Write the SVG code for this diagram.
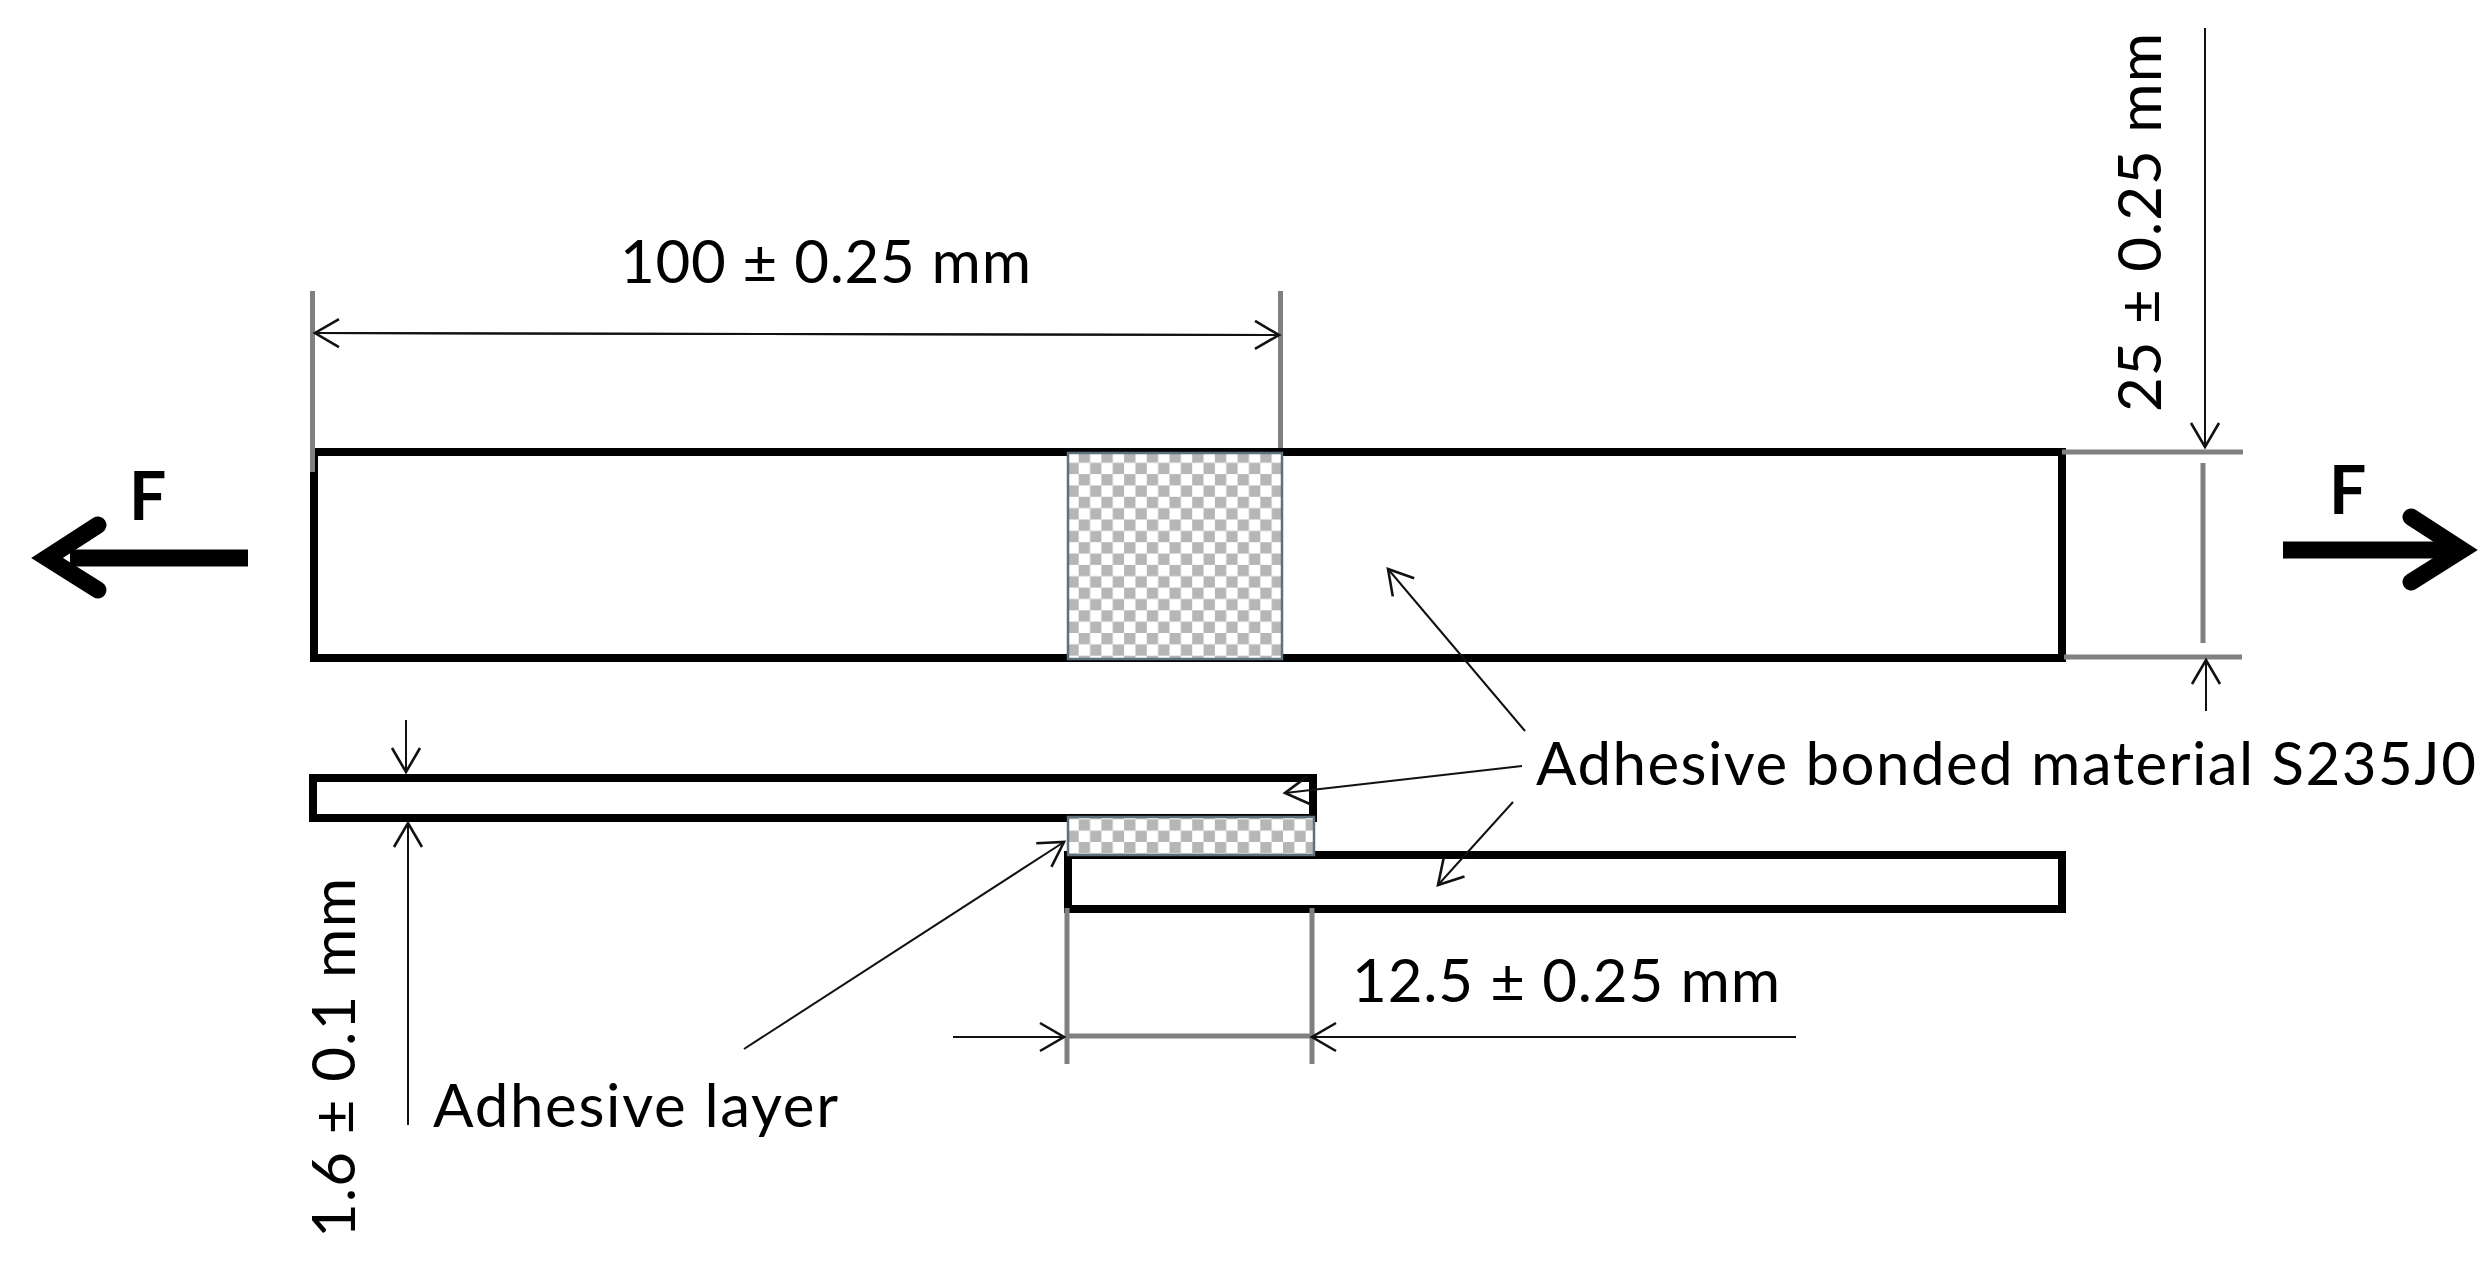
<svg xmlns="http://www.w3.org/2000/svg" width="2492" height="1262" viewBox="0 0 2492 1262">
<style>
.plate{fill:#fff;stroke:#000;stroke-width:8}
.bond{stroke:#5f717c;stroke-width:2.5}
.ext{fill:none;stroke:#808080;stroke-width:5}
.lead{fill:none;stroke:#111;stroke-width:2;marker-end:url(#open)}
.lbl{font-family:"Lato","Open Sans",sans-serif;font-size:60px;fill:#000}
.force{font-family:"Lato","Open Sans",sans-serif;font-size:66px;font-weight:700;fill:#000}
.shaft{fill:none;stroke:#000;stroke-width:17}
.barb{fill:none;stroke:#000;stroke-width:17;stroke-linecap:round;stroke-linejoin:miter;stroke-miterlimit:10}
</style>
<defs>
<marker id="open" markerUnits="userSpaceOnUse" markerWidth="40" markerHeight="40" refX="30" refY="20" orient="auto" overflow="visible">
<path d="M6,6 L30,20 L6,34" fill="none" stroke="#111" stroke-width="2.6"/>
</marker>
<pattern id="chk1" patternUnits="userSpaceOnUse" x="1078.7" y="451.4" width="22.7" height="22.7">
<rect width="22.7" height="22.7" fill="#fff"/><rect width="11.35" height="11.35" fill="#b6b6b6"/><rect x="11.35" y="11.35" width="11.35" height="11.35" fill="#b6b6b6"/>
</pattern>
<pattern id="chk2" patternUnits="userSpaceOnUse" x="1078.7" y="819.3" width="22.7" height="22.7">
<rect width="22.7" height="22.7" fill="#fff"/><rect width="11.35" height="11.35" fill="#b6b6b6"/><rect x="11.35" y="11.35" width="11.35" height="11.35" fill="#b6b6b6"/>
</pattern>
</defs>
<rect width="2492" height="1262" fill="#fff"/>

<g id="plate-top-view"><rect class="plate" x="314" y="452" width="1748" height="206"/></g>
<g id="bond-top-view"><rect class="bond" x="1068" y="453" width="214" height="206" fill="url(#chk1)"/></g>
<g id="strip-upper"><rect class="plate" x="313" y="778" width="1000" height="40"/></g>
<g id="strip-lower"><rect class="plate" x="1068" y="855" width="994" height="54"/></g>
<g id="bond-side-view"><rect class="bond" x="1068" y="817" width="246" height="38" fill="url(#chk2)"/></g>

<g id="connectors">
<path class="ext" d="M312.500,291V472"/>
<path class="ext" d="M1280.500,291V448"/>
<path class="ext" d="M2062,452H2243"/>
<path class="ext" d="M2064,657H2242"/>
<path class="ext" d="M2203,463V643"/>
<path class="ext" d="M1067,908V1064"/>
<path class="ext" d="M1312,908V1064"/>
<path class="ext" d="M1067,1036H1312" stroke="#999"/>
<path class="lead" d="M315,333L1279,335"/>
<path class="lead" d="M1279,335L315,333"/>
<path class="lead" d="M2205,28V447"/>
<path class="lead" d="M2206,711V660"/>
<path class="lead" d="M406,720V772"/>
<path class="lead" d="M408,1125V823"/>
<path class="lead" d="M953,1037H1064"/>
<path class="lead" d="M1796,1037H1312"/>
<path class="lead" d="M1525,731L1388,569"/>
<path class="lead" d="M1522,766L1285,793"/>
<path class="lead" d="M1513,802L1438,885"/>
<path class="lead" d="M744,1049L1064,842"/>
<g id="force-left">
<path class="shaft" d="M248,558H70"/>
<path class="barb" d="M98,525L47,558L98,590"/>
</g>
<g id="force-right">
<path class="shaft" d="M2283,550H2450"/>
<path class="barb" d="M2411,517L2462,550L2411,582"/>
</g>
</g>

<g id="labels">
<text class="force" x="129" y="520">F</text>
<text class="force" x="2329" y="514">F</text>
<text class="lbl" x="620" y="283" textLength="411">100 ± 0.25 mm</text>
<text class="lbl" x="1352" y="1002" textLength="428">12.5 ± 0.25 mm</text>
<text class="lbl" x="1536" y="785" textLength="940">Adhesive bonded material S235J0</text>
<text class="lbl" x="433" y="1127" textLength="405">Adhesive layer</text>
<text class="lbl" transform="translate(2161,412) rotate(-90)" textLength="379">25 ± 0.25 mm</text>
<text class="lbl" transform="translate(355,1238) rotate(-90)" textLength="360">1.6 ± 0.1 mm</text>
</g>
</svg>
